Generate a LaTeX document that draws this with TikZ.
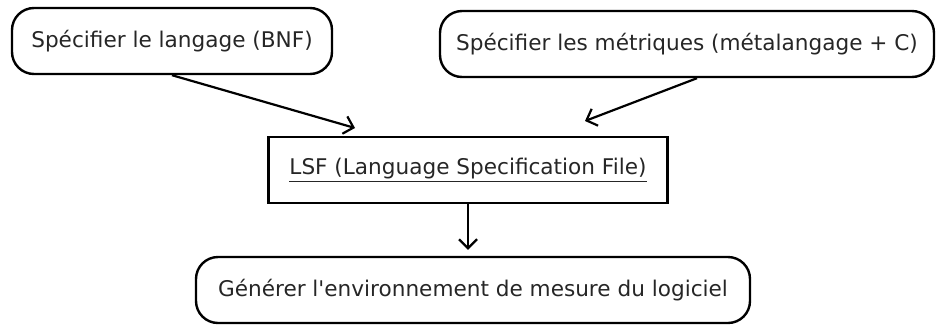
\documentclass[tikz,border=0pt]{standalone}
\usepackage{fontspec}
\setmainfont{DejaVu Sans}
\usetikzlibrary{arrows.meta}
\begin{document}
\begin{tikzpicture}[x=1pt,y=-1pt,
  every node/.style={font=\fontsize{21.6}{25}\selectfont, text=black!85, inner sep=0pt},
  rbox/.style={draw, line width=2.4pt, rounded corners=22pt, minimum height=66pt},
  sbox/.style={draw, line width=2.4pt, minimum height=66pt},
  conn/.style={line width=2.2pt, -{Straight Barb[length=9pt,width=18pt,line width=2.2pt]}}]
\useasboundingbox (0,0) rectangle (936,327);
\node[rbox, minimum width=320pt] (a) at (172,41) {Spécifier le langage (BNF)};
\node[rbox, minimum width=494pt] (b) at (687,44) {Spécifier les métriques (métalangage + C)};
\node[sbox, minimum width=399pt] (c) at (468,170) {\underline{LSF (Language Specification File)}};
\node[rbox, minimum width=554pt] (d) at (473,290) {Générer l\textquotesingle environnement de mesure du logiciel};
\coordinate (ae) at (355,128);
\coordinate (be) at (585,121);
\draw[conn] (a.south) -- (ae);
\draw[conn] ([xshift=10pt]b.south) -- (be);
\draw[conn, shorten >=6pt] (c.south) -- (c.south |- d.north);
\end{tikzpicture}
\end{document}
